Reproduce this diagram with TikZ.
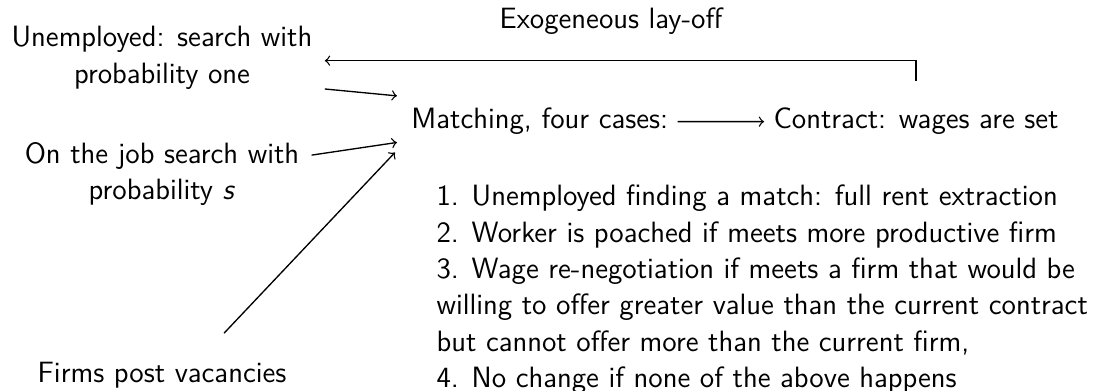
\documentclass[tikz,border=0pt]{standalone}
\usetikzlibrary{calc}
\begin{document}
\begin{tikzpicture}[x=0.3745pt,y=-0.3745pt,
  every node/.style={font=\fontsize{11}{13.6}\selectfont\sffamily},
  lbl/.style={align=center},
  conn/.style={->, line width=0.5pt}]
\useasboundingbox (0,0) rectangle (1100,391);
\node[lbl, anchor=base] (lay) at (611,29) {Exogeneous lay-off};
\node[lbl] (unemp) at (162,57.7) {Unemployed: search with\\probability one};
\node[anchor=base west] (match) at (402,129) {Matching, four cases:};
\node[anchor=base east] (contract) at (1068,129) {Contract: wages are set};
\node[lbl] (job) at (162,174.2) {On the job search with\\probability \textit{s}};
\node[lbl, anchor=base] (firms) at (162,383) {Firms post vacancies};
\node[align=left, anchor=north west, inner sep=0pt] (list) at (436,184.6) {1. Unemployed finding a match: full rent extraction\\
2. Worker is poached if meets more productive firm\\
3. Wage re-negotiation if meets a firm that would be\\
willing to offer greater value than the current contract\\
but cannot offer more than the current firm,\\
4. No change if none of the above happens};
\draw[conn] ([shift={(0,-18)}]contract.north) |- ([shift={(3,3)}]unemp.east);
\draw[conn] ([shift={(3,-9.5)}]unemp.south east) -- ([shift={(-5,-3)}]match.north west);
\draw[conn] ([shift={(3,22)}]job.north east) -- ([shift={(-5,-2)}]match.south west);
\draw[conn] ([shift={(62,-20)}]firms.north) -- ([shift={(-7,8)}]match.south west);
\draw[conn] (match) -- (contract);
\end{tikzpicture}
\end{document}
